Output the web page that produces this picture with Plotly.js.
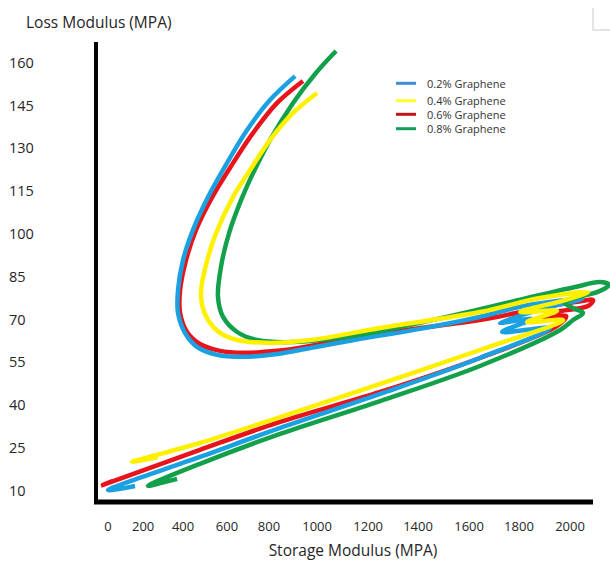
<!DOCTYPE html>
<html>
<head>
<meta charset="utf-8">
<script src="https://cdn.plot.ly/plotly-3.0.1.min.js"></script>
<style>html,body{margin:0;padding:0;background:#fff;}#chart{width:610px;height:562px;}</style>
</head>
<body>
<div id="chart"></div>
<script>
// Series names (legend)
const seriesNames = ['0.2% Graphene', '0.4% Graphene', '0.6% Graphene', '0.8% Graphene'];

// Storage modulus (x) and loss modulus (y), MPA
const blueX = [810,701,602,515,433,368,325,303,303,333,385,472,584,732,875,1091,1351,1589,1797,1944,2052,1892,1697,1836,1706,1913,1610,1178,745,398,0,117];
const blueY = [155.3,146.9,136.4,124.8,112.9,101.4,90.9,80.3,72.3,65.3,60.4,57.6,56.9,57.9,60.0,63.2,66.7,70.5,74.7,76.5,77.2,74.0,68.8,70.2,65.6,67.0,56.5,43.9,32.0,21.8,10.2,11.6];

const yellowX = [905,801,701,615,541,468,424,403,407,433,485,559,688,875,1178,1610,1870,2078,1978,1784,1944,1814,1970,1610,1178,745,398,104,216];
const yellowY = [149.4,142.4,132.9,122.4,112.9,100.3,89.1,80.3,75.1,69.8,65.3,62.8,61.8,62.8,67.0,72.6,77.5,79.6,76.8,72.6,73.0,69.1,69.8,59.3,47.4,35.8,26.7,20.1,21.8];

const redX = [844,732,628,541,451,381,338,312,312,342,398,485,584,732,875,1091,1351,1610,1870,2022,2100,2078,1935,1870,1983,1944,1610,1178,745,398,-22,22];
const redY = [153.6,145.9,135.4,124.8,112.9,101.4,90.9,80.3,72.3,65.6,61.4,59.0,58.3,59.0,60.7,63.9,67.0,69.8,74.0,76.1,76.8,74.7,72.6,70.5,71.2,67.7,56.5,44.6,34.1,24.3,12.0,13.4];

const greenX = [987,900,801,701,628,580,524,489,476,498,559,645,801,1091,1580,1870,2022,2130,2169,2117,2035,1978,2022,2056,2013,1957,1610,1178,745,398,173,299];
const greenY = [164.1,156.4,145.9,132.9,121.3,112.6,100.3,88.4,77.9,70.9,65.6,62.8,62.1,64.6,73.0,78.6,81.4,83.1,82.1,79.6,77.9,75.8,73.7,72.3,69.8,66.3,53.7,41.4,29.9,19.4,11.7,14.1];

// Tick labels (the x labels sit at uneven places in the original)
const xTickLabels = ['0','200','400','600','800','1000','1200','1400','1600','1800','2000'];
const xTickPlaces = [0,152,325,515,697,905,1126,1342,1563,1779,2000];
const yTickValues = [10,25,40,55,70,85,100,115,130,145,160];

const curveColors = {blue:'#1BA1E2', yellow:'#FFF000', red:'#E8141C', green:'#13A04B'};
const legendColors = ['#3D8FD9', '#FFFF2E', '#C1121C', '#169B5E'];

function curve(x, y, color, name) {
  return {x: x, y: y, name: name, type: 'scatter', mode: 'lines', showlegend: false, hoverinfo: 'skip',
          line: {color: color, width: 4.5, shape: 'spline', smoothing: 1.0}};
}

const data = [
  curve(redX, redY, curveColors.red, seriesNames[2]),
  curve(blueX, blueY, curveColors.blue, seriesNames[0]),
  curve(greenX, greenY, curveColors.green, seriesNames[3]),
  curve(yellowX, yellowY, curveColors.yellow, seriesNames[1])
];

const W = 610, H = 562, T = 42, B = 60;
const plotH = H - T - B;
const py = v => (H - B - v) / plotH;   // pixel row -> paper y
const px = v => v / W;                 // pixel col -> paper x

const font = 'Open Sans, Liberation Sans, sans-serif';
const txt = '#262626';

const legendRows = [83.3, 100.7, 114.3, 128.7];
const annotations = seriesNames.map((n, i) => ({
  text: n, xref: 'paper', yref: 'paper', x: px(425), y: py(legendRows[i]),
  xanchor: 'left', yanchor: 'middle', showarrow: false,
  font: {family: font, size: 11, color: '#333'}
}));
const shapes = seriesNames.map((n, i) => ({
  type: 'line', xref: 'paper', yref: 'paper', x0: px(396), x1: px(416),
  y0: py(legendRows[i]), y1: py(legendRows[i]), line: {color: legendColors[i], width: 3}
}));
// axis lines
shapes.push({type: 'line', xref: 'paper', yref: 'paper', x0: px(96), x1: px(96), y0: py(504), y1: py(42), line: {color: '#000', width: 4}});
shapes.push({type: 'line', xref: 'paper', yref: 'paper', x0: px(94), x1: px(593), y0: py(502), y1: py(502), line: {color: '#000', width: 5}});
// faint frame corner at the top right
shapes.push({type: 'path', xref: 'paper', yref: 'paper',
  path: 'M ' + px(593) + ' ' + py(8) + ' L ' + px(593) + ' ' + py(30) + ' L ' + px(610) + ' ' + py(30),
  line: {color: '#DCDCDC', width: 1.5}});

const layout = {
  width: W, height: H,
  margin: {l: 0, r: 0, t: T, b: B, pad: 0},
  paper_bgcolor: '#fff', plot_bgcolor: '#fff',
  showlegend: false,
  title: {text: 'Loss Modulus (MPA)', xref: 'container', yref: 'container', x: 26 / W, xanchor: 'left',
          y: 1 - 23 / H, yanchor: 'middle', font: {family: font, size: 15.5, color: txt}},
  xaxis: {domain: [96 / W, 1], range: [-52, 2173], showgrid: false, zeroline: false, showline: false,
          ticks: '', tickmode: 'array', tickvals: xTickPlaces, ticktext: xTickLabels,
          tickfont: {family: font, size: 13, color: txt}, ticklabelstandoff: 15,
          title: {text: 'Storage Modulus (MPA)', font: {family: font, size: 15.5, color: txt}, standoff: 11}},
  yaxis: {domain: [0, 1], range: [6.02, 167.26], showgrid: false, zeroline: false, showline: false,
          side: 'right', anchor: 'free', position: 8 / W,
          ticks: '', tickmode: 'array', tickvals: yTickValues, ticktext: yTickValues.map(String),
          tickfont: {family: font, size: 14.5, color: txt}},
  annotations: annotations,
  shapes: shapes
};

Plotly.newPlot('chart', data, layout, {staticPlot: true, displayModeBar: false});
</script>
</body>
</html>
